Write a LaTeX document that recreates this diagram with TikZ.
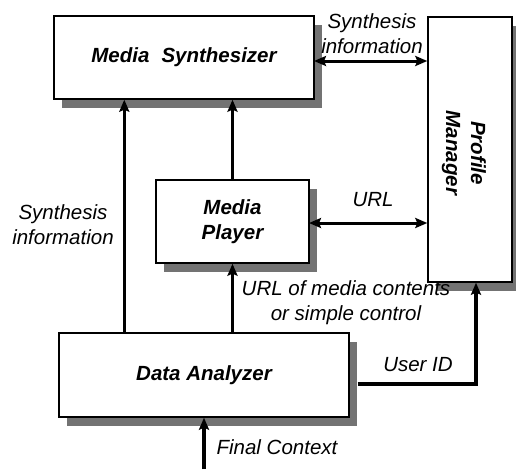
\documentclass[tikz,border=0pt]{standalone}
\usepackage{fontspec}
\setmainfont{Liberation Sans}
\usetikzlibrary{arrows.meta,shadows,calc}

\tikzset{
  block/.style={draw=black, line width=1.4pt, fill=white, inner sep=0pt,
    font=\fontsize{20.5}{25}\selectfont\bfseries\itshape, align=center,
    drop shadow={shadow xshift=8pt, shadow yshift=-9pt, fill=black!55, opacity=1}},
  lbl/.style={font=\fontsize{20.5}{25}\selectfont\itshape, align=center, inner sep=0pt},
  tip/.tip={Stealth[length=12pt,width=10pt,inset=2pt]},
  flow/.style={draw=black, line width=3.2pt, -tip},
  twoway/.style={draw=black, line width=3pt, tip-tip}
}

\begin{document}
\begin{tikzpicture}[x=1pt,y=-1pt]
\useasboundingbox (0,0) rectangle (516,469);

% components
\node[block, minimum width=260pt, minimum height=83pt] (MS) at (184,57.5) {Media\hspace{12pt}Synthesizer};
\node[block, minimum width=153pt, minimum height=83pt] (MP) at (232.5,221.5) {Media\\Player};
\node[block, minimum width=290pt, minimum height=84pt] (DA) at (204,375) {Data Analyzer};
\node[block, minimum width=84pt, minimum height=265pt] (PM) at (470,149.5) {};
\node[font=\fontsize{20.5}{25}\selectfont\bfseries\itshape, align=center, rotate=-90] (PMt) at (464,153) {Profile\\Manager};

% connector end points on the box edges
\coordinate (msr) at (314,61);
\coordinate (pmsyn) at (msr -| PM.west);
\coordinate (mpr) at (309,223);
\coordinate (pmurl) at (mpr -| PM.west);
\coordinate (dal) at ([xshift=66pt]DA.north west);
\coordinate (msl) at (dal |- MS.south);
\coordinate (dar) at ($(DA.east)+(8,9)$);
\coordinate (pmb) at ([xshift=6pt]PM.south);
\coordinate (fc) at (204,469);

% data flow
\draw[flow] (dal) -- (msl);
\draw[flow] (DA.north -| MP.south) -- (MP.south);
\draw[flow] (MP.north) -- (MS.south -| MP.north);
\draw[twoway] (msr) -- (pmsyn);
\draw[twoway] (mpr) -- (pmurl);
\draw[flow] (dar) -| (pmb);
\draw[flow] (fc) -- (DA.south);

% labels
\node[lbl] (l1) at (372,34) {Synthesis\\information};
\node[lbl] (l2) at (373,200) {URL};
\node[lbl] (l3) at (63,225) {Synthesis\\information};
\node[lbl] (l4) at (346,303) {URL of media contents\\or simple control};
\node[lbl] (l5) at (418,365) {User ID};
\node[lbl] (l6) at (277,447) {Final Context};
\end{tikzpicture}
\end{document}
